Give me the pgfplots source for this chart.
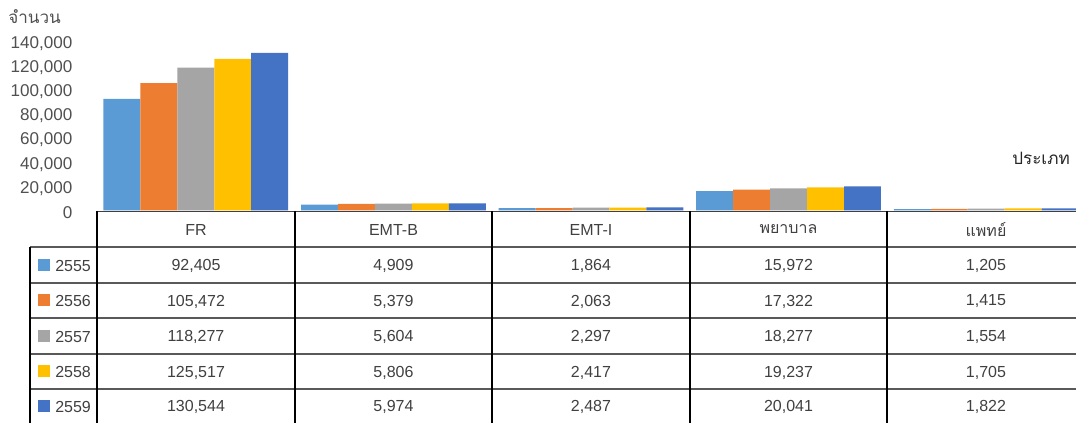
\documentclass[border=0pt]{standalone}
\usepackage{pgfplots}
\pgfplotsset{compat=1.18}
\usepackage{fontspec}
\setmainfont{Liberation Sans}
\newfontfamily\thaifont[Script=Thai]{Loma}
\definecolor{cA}{HTML}{5B9BD5}
\definecolor{cB}{HTML}{ED7D31}
\definecolor{cC}{HTML}{A5A5A5}
\definecolor{cD}{HTML}{FFC000}
\definecolor{cE}{HTML}{4472C4}
\definecolor{txt}{HTML}{404040}
\definecolor{ticktxt}{HTML}{505050}
\begin{document}
\begin{tikzpicture}
\path[use as bounding box] (0pt,0pt) rectangle (807pt,317.25pt);
\clip (0pt,0pt) rectangle (807pt,317.25pt);
\begin{axis}[
  at={(72.75pt,159.375pt)}, anchor=south west,
  scale only axis, width=741pt, height=126.75pt,
  xmin=-0.5, xmax=4.5, ymin=0, ymax=140000,
  ybar, bar width=0.187,
  axis line style={draw=none},
  xtick=\empty,
  ytick={0,20000,40000,60000,80000,100000,120000,140000},
  major tick length=0pt,
  yticklabel style={xshift=-15pt, yshift=-1.5pt, text=ticktxt, font=\fontsize{12.8}{14}\selectfont},
  /pgf/number format/assume math mode=true,
  /pgf/number format/fixed,
  /pgf/number format/1000 sep={,},
  scaled y ticks=false,
  clip=false,
]
\addplot[fill=cA, draw=none, bar shift=-0.374] coordinates {(0,92405) (1,4909) (2,1864) (3,15972) (4,1205)};
\addplot[fill=cB, draw=none, bar shift=-0.187] coordinates {(0,105472) (1,5379) (2,2063) (3,17322) (4,1415)};
\addplot[fill=cC, draw=none, bar shift=0] coordinates {(0,118277) (1,5604) (2,2297) (3,18277) (4,1554)};
\addplot[fill=cD, draw=none, bar shift=0.187] coordinates {(0,125517) (1,5806) (2,2417) (3,19237) (4,1705)};
\addplot[fill=cE, draw=none, bar shift=0.374] coordinates {(0,130544) (1,5974) (2,2487) (3,20041) (4,1822)};
\end{axis}
\begin{scope}[shift={(0pt,317.25pt)}, x=0.75pt, y=-0.75pt]
% axis titles
\node[anchor=west, text=ticktxt, font=\fontsize{12.8}{14}\selectfont\thaifont, inner sep=0pt] at (8,17) {จำนวน};
\node[anchor=west, text=black!85, font=\fontsize{12.8}{14}\selectfont\thaifont, inner sep=0pt] at (1012,158) {ประเภท};
% table lines
\draw[black!75, line width=0.8pt] (97,211.6) -- (1076,211.6);
\foreach \yy in {247,283,318,354,389} \draw[black!65, line width=0.8pt] (30,\yy) -- (1076,\yy);
\draw[black, line width=0.8pt] (30,247) -- (30,423);
\foreach \xx in {97,295,492,690,887} \draw[black, line width=0.8pt] (\xx,211) -- (\xx,423);
% header
\begin{scope}[every node/.style={text=txt, font=\fontsize{12}{13}\selectfont, inner sep=0pt}]
\node at (196,230) {FR};
\node at (393.5,230) {EMT-B};
\node at (591,230) {EMT-I};
\node[font=\fontsize{12}{13}\selectfont\thaifont] at (788.5,229.5) {พยาบาล};
\node[font=\fontsize{12}{13}\selectfont\thaifont] at (986,229.5) {แพทย์};
% legend column
\fill[cA] (38,259) rectangle (50,271); \node[anchor=west] at (55,266) {2555};
\fill[cB] (38,294.5) rectangle (50,306.5); \node[anchor=west] at (55,301.5) {2556};
\fill[cC] (38,330) rectangle (50,342); \node[anchor=west] at (55,337) {2557};
\fill[cD] (38,365.5) rectangle (50,377.5); \node[anchor=west] at (55,372.5) {2558};
\fill[cE] (38,400) rectangle (50,412); \node[anchor=west] at (55,407) {2559};
% values
\node at (196,266) {92,405}; \node at (393.5,266) {4,909}; \node at (591,266) {1,864}; \node at (788.5,266) {15,972}; \node at (986,266) {1,205};
\node at (196,301.5) {105,472}; \node at (393.5,301.5) {5,379}; \node at (591,301.5) {2,063}; \node at (788.5,301.5) {17,322}; \node at (986,301.5) {1,415};
\node at (196,337) {118,277}; \node at (393.5,337) {5,604}; \node at (591,337) {2,297}; \node at (788.5,337) {18,277}; \node at (986,337) {1,554};
\node at (196,372.5) {125,517}; \node at (393.5,372.5) {5,806}; \node at (591,372.5) {2,417}; \node at (788.5,372.5) {19,237}; \node at (986,372.5) {1,705};
\node at (196,407) {130,544}; \node at (393.5,407) {5,974}; \node at (591,407) {2,487}; \node at (788.5,407) {20,041}; \node at (986,407) {1,822};
\end{scope}
\end{scope}
\end{tikzpicture}
\end{document}
